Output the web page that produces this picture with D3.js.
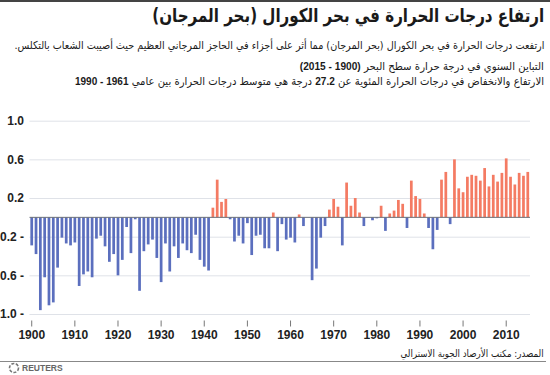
<!DOCTYPE html>
<html>
<head>
<meta charset="utf-8">
<script src="https://cdn.jsdelivr.net/npm/d3@7"></script>
<style>
  body { margin: 0; background: #fff; }
  #wrap { position: relative; width: 550px; height: 375px; overflow: hidden; }
  .txt { position: absolute; right: 6px; direction: rtl; white-space: nowrap; color: #1a1a1a;
         font-family: "DejaVu Sans", "Liberation Sans", sans-serif; transform-origin: right center; }
  .txt b { font-family: "Liberation Sans", Arial, sans-serif; font-weight: bold; }
  svg { position: absolute; left: 0; top: 0; }
  .axis text { font-family: "Liberation Sans", Arial, sans-serif; font-weight: bold; fill: #222; }
</style>
</head>
<body>
<div id="wrap"></div>
<script>
/* Coral Sea sea surface temperature anomaly, 1900 - 2015 */

const width = 550, height = 375,
    margin = ({ top: 120.7, right: 18.5, bottom: 61, left: 29.5 });

const years = d3.range(1900, 2016);
const anomaly = [
  -0.29, -0.38, -0.96, -0.62, -0.91, -0.88, -0.52, -0.21, -0.27, -0.29, // 1900s
  -0.26, -0.71, -0.59, -0.56, -0.62, -0.22, -0.19, -0.30, -0.46, -0.38, // 1910s
  -0.60, -0.44, -0.10, -0.37, -0.02, -0.76, -0.35, -0.28, -0.23, -0.42, // 1920s
  -0.67, -0.27, -0.56, -0.30, -0.42, -0.27, -0.34, -0.37, -0.18, -0.44, // 1930s
  -0.51, -0.55, 0.10, 0.39, 0.16, 0.19, -0.02, -0.25, -0.19, -0.27,     // 1940s
  -0.06, -0.39, -0.19, -0.18, -0.32, -0.32, 0.05, -0.35, -0.07, -0.23,  // 1950s
  -0.21, -0.26, 0.03, -0.09, 0.00, -0.65, -0.53, -0.21, -0.09, 0.08,    // 1960s
  0.19, 0.11, -0.29, 0.36, 0.12, 0.20, 0.05, -0.09, 0.00, -0.03,        // 1970s
  -0.01, 0.12, -0.14, 0.04, 0.07, 0.18, 0.14, -0.11, 0.38, 0.22,        // 1980s
  0.19, 0.04, -0.11, -0.33, -0.13, 0.39, 0.47, -0.07, 0.60, 0.30,       // 1990s
  0.26, 0.42, 0.44, 0.43, 0.38, 0.51, 0.32, 0.44, 0.37, 0.46,           // 2000s
  0.61, 0.42, 0.34, 0.46, 0.43, 0.47                                    // 2010s
];
const yTicks = [1.0, 0.6, 0.2, -0.2, -0.6, -1.0];
const xTicks = d3.range(1900, 2011, 10);

const title = "ارتفاع درجات الحرارة في بحر الكورال (بحر المرجان)";
const intro = "ارتفعت درجات الحرارة في بحر الكورال (بحر المرجان) مما أثر على أجزاء في الحاجز المرجاني العظيم حيث أصيبت الشعاب بالتكلس.";
const line2 = "التباين السنوي في درجة حرارة سطح البحر <b>(1900 - 2015)</b>";
const line3 = "الارتفاع والانخفاض في درجات الحرارة المئوية عن <b>27.2</b> درجة هي متوسط درجات الحرارة بين عامي <b>1961 - 1990</b>";
const source = "المصدر: مكتب الأرصاد الجوية الاسترالي";

const data = years.map((yr, i) => ({ year: yr, value: anomaly[i] }));

const wrap = d3.select("#wrap");

// squeeze a text line to the width it has in the original
function fit(sel, target) {
    const w = sel.node().getBoundingClientRect().width;
    if (w > 0) sel.style("transform", `scaleX(${target / w})`);
    return sel;
}

// header texts (html so the arabic bidi is handled by the browser)
fit(wrap.append("div").attr("class", "txt")
    .style("top", "4px").style("font-size", "19px").style("font-weight", "bold")
    .text(title), 392);
fit(wrap.append("div").attr("class", "txt")
    .style("top", "39px").style("font-size", "11px")
    .text(intro), 530);
fit(wrap.append("div").attr("class", "txt")
    .style("top", "60px").style("font-size", "11px")
    .html(line2), 244);
fit(wrap.append("div").attr("class", "txt")
    .style("top", "75px").style("font-size", "11px")
    .html(line3), 469);
fit(wrap.append("div").attr("class", "txt")
    .style("top", "348px").style("font-size", "10px")
    .text(source), 143);

const svg = wrap.append("svg")
    .attr("width", width)
    .attr("height", height)
    .attr("viewBox", [0, 0, width, height]);

// top rule and bottom rule
svg.append("rect").attr("x", 0).attr("y", 0).attr("width", width).attr("height", 2).attr("fill", "#444");
svg.append("line")
    .attr("x1", 0).attr("x2", width - 4)
    .attr("y1", 361.5).attr("y2", 361.5)
    .attr("stroke", "#888").attr("stroke-width", 1);

let x = d3.scaleBand()
    .domain(years)
    .range([margin.left, width - margin.right - 1.5])
    .paddingInner(0.37)
    .paddingOuter(0.2);

let y = d3.scaleLinear()
    .domain([-1, 1])
    .range([height - margin.bottom, margin.top]);

// Y axis with gridlines
svg.append("g")
    .attr("class", "axis y-axis")
    .attr("transform", `translate(${margin.left},0)`)
    .call(d3.axisLeft(y)
        .tickValues(yTicks)
        .tickSize(-(x.range()[1] - x.range()[0]))
        .tickPadding(5.5)
        .tickFormat(d => d < 0 ? d3.format(".1f")(-d) + " -" : d3.format(".1f")(d)))
    .call(g => g.select(".domain").remove())
    .call(g => g.selectAll(".tick line").attr("stroke", "#dfe2e8").attr("stroke-width", 1))
    .call(g => g.selectAll(".tick text").attr("font-size", 12));

// bars
svg.append("g")
    .selectAll("rect")
    .data(data)
    .join("rect")
    .attr("x", d => x(d.year))
    .attr("width", x.bandwidth())
    .attr("y", d => y(Math.max(0, d.value)))
    .attr("height", d => Math.abs(y(d.value) - y(0)))
    .attr("fill", d => d.value >= 0 ? "#f47b63" : "#5b6fbe");

// zero line
svg.append("line")
    .attr("x1", x.range()[0]).attr("x2", x.range()[1])
    .attr("y1", y(0)).attr("y2", y(0))
    .attr("stroke", "#6b6f78").attr("stroke-width", 1);

// X axis
svg.append("g")
    .attr("class", "axis x-axis")
    .attr("transform", `translate(0,${y(-1) + 6.5})`)
    .call(d3.axisBottom(x)
        .tickValues(xTicks)
        .tickSize(6)
        .tickPadding(4))
    .call(g => g.select(".domain").remove())
    .call(g => g.selectAll(".tick line").attr("stroke", "#777"))
    .call(g => g.selectAll(".tick text").attr("font-size", 12));

// reuters mark
const logo = svg.append("g").attr("transform", "translate(14,368)");
logo.append("circle").attr("r", 4.5).attr("fill", "none").attr("stroke", "#777").attr("stroke-width", 1.6)
    .attr("stroke-dasharray", "3 1.5");
logo.append("text")
    .attr("x", 8).attr("y", 3)
    .attr("font-family", "Liberation Sans, Arial, sans-serif")
    .attr("font-weight", "bold")
    .attr("font-size", 8.5)
    .attr("fill", "#666")
    .text("REUTERS");
</script>
</body>
</html>
